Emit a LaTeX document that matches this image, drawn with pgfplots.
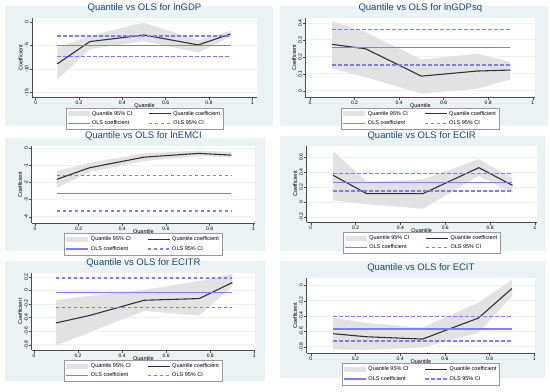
\documentclass[border=0pt]{standalone}
\usepackage{pgfplots}
\pgfplotsset{compat=1.18}
\usepackage{pgfplotstable}
\usepackage{fontspec}
\setmainfont{Liberation Sans}
\definecolor{bg}{HTML}{EAF2F3}
\definecolor{cifill}{RGB}{226,226,226}
\definecolor{qline}{RGB}{50,50,50}
\definecolor{olsc}{RGB}{125,125,250}
\definecolor{ttl}{HTML}{1A476F}

% quantile coefficients
\pgfplotstableread{
q coef
0.1 -8.9
0.25 -4.2
0.5 -2.8
0.75 -4.9
0.9 -2.6
}\tA
\pgfplotstableread{
q coef
0.1 0.273
0.25 0.247
0.5 0.086
0.75 0.116
0.9 0.122
}\tB
\pgfplotstableread{
q coef
0.1 -1.81
0.25 -1.13
0.5 -0.51
0.75 -0.29
0.9 -0.39
}\tC
\pgfplotstableread{
q coef
0.1 0.356
0.25 0.111
0.5 0.111
0.75 0.458
0.9 0.222
}\tD
\pgfplotstableread{
q coef
0.1 -0.478
0.25 -0.37
0.5 -0.143
0.75 -0.118
0.9 0.118
}\tE
\pgfplotstableread{
q coef
0.1 -0.63
0.25 -0.67
0.5 -0.70
0.75 -0.426
0.9 -0.04
}\tF
% 95% CI bands: upper bound left to right, then lower bound right to left
\pgfplotstableread{
q v
0.1 -5.5
0.25 -3.0
0.5 -0.2
0.75 -3.9
0.9 -1.9
0.9 -3.2
0.75 -6.5
0.5 -4.1
0.25 -5.8
0.1 -12.2
}\bA
\pgfplotstableread{
q v
0.1 0.41
0.25 0.345
0.5 0.184
0.75 0.218
0.9 0.169
0.9 0.067
0.75 0.012
0.5 -0.016
0.25 0.08
0.1 0.131
}\bB
\pgfplotstableread{
q v
0.1 -1.33
0.25 -0.84
0.5 -0.29
0.75 -0.12
0.9 -0.21
0.9 -0.51
0.75 -0.45
0.5 -0.74
0.25 -1.38
0.1 -2.30
}\bC
\pgfplotstableread{
q v
0.1 0.68
0.25 0.27
0.5 0.30
0.75 0.57
0.9 0.32
0.9 0.12
0.75 0.35
0.5 -0.09
0.25 -0.03
0.1 0.022
}\bD
\pgfplotstableread{
q v
0.1 -0.14
0.25 -0.08
0.5 0.01
0.75 0.14
0.9 0.25
0.9 0.06
0.75 -0.37
0.5 -0.30
0.25 -0.62
0.1 -0.81
}\bE
\pgfplotstableread{
q v
0.1 -0.42
0.25 -0.49
0.5 -0.55
0.75 -0.226
0.9 0.07
0.9 -0.14
0.75 -0.617
0.5 -0.81
0.25 -0.84
0.1 -0.835
}\bF

\pgfplotsset{
 qpanel/.style={
  scale only axis,
  anchor=south west,
  clip=false,
  axis x line*=bottom, axis y line*=left,
  axis line style={draw=black!70, line width=0.5pt},
  tick align=outside, major tick length=2.5pt,
  tick style={draw=black!70, line width=0.4pt},
  xtick={0,0.2,0.4,0.6,0.8,1},
  xticklabels={0,0.2,0.4,0.6,0.8,1},
  ymajorgrids, grid style={draw=bg, line width=0.6pt},
  ticklabel style={font=\fontsize{5}{6}\selectfont, inner sep=1pt},
  yticklabel style={rotate=90, anchor=south},
  /pgf/number format/assume math mode=true,
  /pgf/number format/fixed,
  xlabel={Quantile}, ylabel={Coefficient},
  label style={font=\fontsize{5.5}{6}\selectfont},
  xlabel style={at={(0.5,0)}, anchor=north, yshift=-6pt, inner sep=0pt},
  ylabel style={inner sep=1pt},
  title style={font=\fontsize{9.5}{10}\selectfont, text=ttl, at={(0.5,1)}, anchor=base, yshift=1.5pt},
  legend columns=2,
  legend cell align=left,
  legend style={at={(0.5,0)}, anchor=north, yshift=-10pt, font=\fontsize{5.5}{6.5}\selectfont,
    draw=black!40, line width=0.4pt, fill=white, inner sep=1.2pt,
    /tikz/every even column/.append style={column sep=14pt}},
  legend image code/.code={\draw[##1] (0pt,0pt) -- (22pt,0pt);},
  axis background/.style={fill=white},
 }
}
\newcommand{\panelplots}[5]{%
 \addplot[fill=cifill, draw=none, legend image code/.code={\fill[fill=cifill] (0pt,-2.5pt) rectangle (22pt,2.5pt);}] table[x=q,y=v]{#2} -- cycle;
 \addlegendentry{Quantile 95\% CI}
 \addplot[draw=qline, line width=1.1pt] table[x=q,y=coef]{#1};
 \addlegendentry{Quantile coefficient}
 \addplot[draw=olsc, line width=1.2pt] coordinates {(0.1,#3) (0.9,#3)};
 \addlegendentry{OLS coefficient}
 \addplot[draw=olsc, line width=1.2pt, dash pattern=on 3.5pt off 2.5pt] coordinates {(0.1,#4) (0.9,#4)};
 \addlegendentry{OLS 95\% CI}
 \addplot[draw=olsc, line width=1.2pt, dash pattern=on 3.5pt off 2.5pt, forget plot] coordinates {(0.1,#5) (0.9,#5)};
}

\begin{document}
\begin{tikzpicture}
\fill[fill=white] (0pt,0pt) rectangle (550pt,389pt);
\fill[fill=bg] (5pt,266pt) rectangle (273pt,386pt);
\fill[fill=bg] (280pt,266pt) rectangle (548pt,386pt);
\fill[fill=bg] (5pt,141pt) rectangle (265pt,254pt);
\fill[fill=bg] (280pt,141pt) rectangle (545pt,256pt);
\fill[fill=bg] (5pt,11pt) rectangle (265pt,131pt);
\fill[fill=bg] (280pt,14pt) rectangle (545pt,131pt);

\begin{axis}[qpanel, at={(32pt,294pt)}, width=225pt, height=80pt,
  xmin=-0.017, xmax=1.022, ymin=-16.06, ymax=0.85, ytick={-15,-10,-5,0},
  title={Quantile vs OLS for lnGDP}]
\panelplots{\tA}{\bA}{-5.1}{-7.3}{-3.0}
\end{axis}

\begin{axis}[qpanel, at={(305.7pt,294pt)}, width=229.3pt, height=80pt,
  xmin=-0.019, xmax=1.01, ymin=-0.041, ymax=0.43, ytick={0,0.1,0.2,0.3,0.4},
  title={Quantile vs OLS for lnGDPsq}]
\panelplots{\tB}{\bB}{0.253}{0.151}{0.359}
\end{axis}

\begin{axis}[qpanel, at={(31.7pt,168.3pt)}, width=223.3pt, height=77.7pt,
  xmin=-0.015, xmax=1.008, ymin=-4.39, ymax=0.16, ytick={-4,-3,-2,-1,0},
  title={Quantile vs OLS for lnEMCI}]
\panelplots{\tC}{\bC}{-2.63}{-3.66}{-1.58}
\end{axis}

\begin{axis}[qpanel, at={(306.7pt,169.7pt)}, width=230pt, height=76pt,
  xmin=-0.018, xmax=1.008, ymin=-0.267, ymax=0.747, ytick={-0.2,0,0.2,0.4,0.6},
  title={Quantile vs OLS for ECIR}]
\panelplots{\tD}{\bD}{0.258}{0.147}{0.378}
\end{axis}

\begin{axis}[qpanel, at={(31.7pt,41.7pt)}, width=223.3pt, height=77.3pt,
  xmin=-0.010, xmax=1.003, ymin=-0.878, ymax=0.264, ytick={-0.8,-0.6,-0.4,-0.2,0,0.2},
  title={Quantile vs OLS for ECITR}]
\panelplots{\tE}{\bE}{-0.034}{-0.25}{0.187}
\end{axis}

\begin{axis}[qpanel, at={(306.7pt,38.3pt)}, width=228.3pt, height=75.7pt,
  xmin=-0.018, xmax=1.003, ymin=-0.887, ymax=0.1, ytick={-0.8,-0.6,-0.4,-0.2,0},
  title={Quantile vs OLS for ECIT}]
\panelplots{\tF}{\bF}{-0.57}{-0.726}{-0.41}
\end{axis}
\end{tikzpicture}
\end{document}
